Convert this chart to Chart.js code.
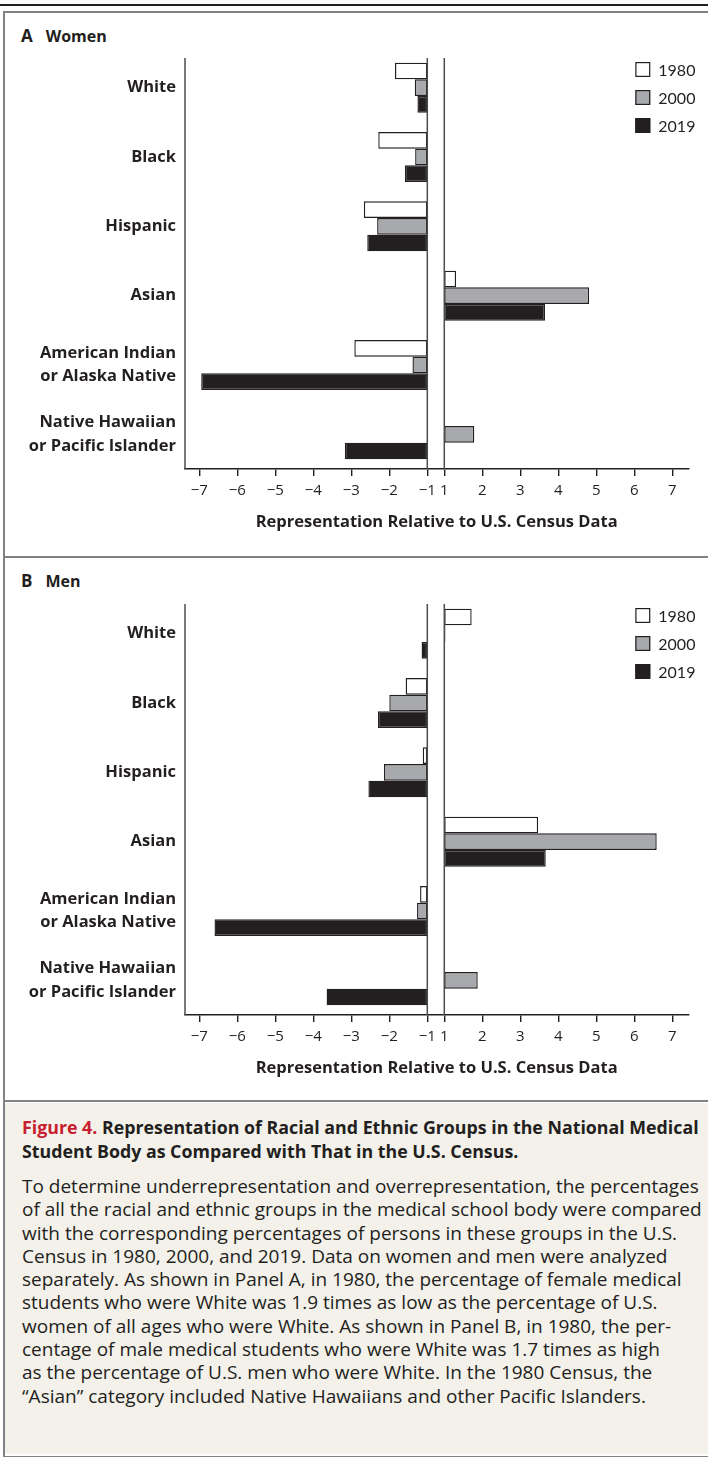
<!DOCTYPE html>
<html lang="en">
<head>
  <meta charset="UTF-8" />
  <title>Figure 4</title>
  <script src="https://cdn.jsdelivr.net/npm/chart.js"></script>
  <style>
    body {
      margin: 0;
      width: 708px;
      height: 1457px;
      position: relative;
      overflow: hidden;
      background: #fff;
      font-family: "Open Sans", Lato, sans-serif;
      color: #231f20;
    }
    .abs { position: absolute; }
    #topRule { left: 0; top: 4px; width: 708px; height: 2px; background: #231f20; }
    #frame {
      left: 3px; top: 11px; width: 720px; height: 1443px;
      border: 2px solid #808285; border-right: none;
    }
    .sep { left: 4px; width: 704px; height: 2px; background: #808285; }
    #captionBg { left: 5px; top: 1103px; width: 703px; height: 351px; background: #f4f1eb; }
    .panelHead { left: 21px; font-weight: bold; line-height: 22px; white-space: nowrap; }
    .panelHead .letter { font-size: 17px; margin-right: 13px; }
    .panelHead .name { font-size: 16px; }
    #capTitle {
      left: 22px; top: 1115px; font-weight: bold; font-size: 17.8px;
      line-height: 24px; white-space: nowrap;
    }
    #capTitle .fig { color: #c8202f; }
    #capBody {
      left: 22px; top: 1175px; font-size: 19px; line-height: 23.3px; white-space: nowrap;
    }
    canvas { position: absolute; left: 0; }
  </style>
</head>
<body>
  <div id="topRule" class="abs"></div>
  <div id="frame" class="abs"></div>
  <div class="abs sep" style="top:556px"></div>
  <div id="captionBg" class="abs"></div>
  <div class="abs sep" style="top:1100px"></div>

  <div class="abs panelHead" style="top:25px"><span class="letter">A</span><span class="name">Women</span></div>
  <div class="abs panelHead" style="top:570px"><span class="letter">B</span><span class="name">Men</span></div>

  <canvas id="chartA" width="708" height="494" style="top:45px"></canvas>
  <canvas id="chartB" width="708" height="494" style="top:591px"></canvas>

  <div id="capTitle" class="abs"><span class="fig">Figure 4.</span> Representation of Racial and Ethnic Groups in the National Medical<br>Student Body as Compared with That in the U.S. Census.</div>
  <div id="capBody" class="abs">To determine underrepresentation and overrepresentation, the percentages<br>of all the racial and ethnic groups in the medical school body were compared<br>with the corresponding percentages of persons in these groups in the U.S.<br>Census in 1980, 2000, and 2019. Data on women and men were analyzed<br>separately. As shown in Panel A, in 1980, the percentage of female medical<br>students who were White was 1.9 times as low as the percentage of U.S.<br>women of all ages who were White. As shown in Panel B, in 1980, the per-<br>centage of male medical students who were White was 1.7 times as high<br>as the percentage of U.S. men who were White. In the 1980 Census, the<br>&ldquo;Asian&rdquo; category included Native Hawaiians and other Pacific Islanders.</div>

  <script>
    // ---- data ----
    const categories = [
      'White', 'Black', 'Hispanic', 'Asian',
      ['American Indian', 'or Alaska Native'],
      ['Native Hawaiian', 'or Pacific Islander']
    ];
    const years = ['1980', '2000', '2019'];

    const women1980 = [-1.85, -2.29, -2.67, 1.31, -2.92, null];
    const women2000 = [-1.33, -1.32, -2.32, 4.81, -1.39, 1.79];
    const women2019 = [-1.26, -1.59, -2.58, 3.65, -6.95, -3.17];

    const men1980 = [1.72, -1.57, -1.12, 3.47, -1.19, null];
    const men2000 = [1.03, -2.00, -2.14, 6.59, -1.27, 1.88];
    const men2019 = [-1.15, -2.30, -2.55, 3.67, -6.60, -3.65];

    const xTickValues = [-7, -6, -5, -4, -3, -2, -1, 1, 2, 3, 4, 5, 6, 7];
    const axisTitle = 'Representation Relative to U.S. Census Data';

    const barColors = ['#ffffff', '#a7a9ac', '#231f20'];
    const ink = '#231f20';

    // the axis jumps from -1 straight to 1; squeeze that gap
    const GAP = 0.447;
    function toU(v) {
      return v < 0 ? v + 1 - GAP / 2 : v - 1 + GAP / 2;
    }
    function fmt(v) {
      return v < 0 ? '\u2212' + Math.abs(v) : String(v);
    }
    function bar(v) {
      if (v === null) return null;
      return v < 0 ? [toU(-1), toU(v)] : [toU(1), toU(v)];
    }

    const overlay = {
      id: 'overlay',
      afterDatasetsDraw(chart) {
        const { ctx, chartArea, scales: { x } } = chart;
        ctx.save();
        ctx.strokeStyle = '#4d4d4f';
        ctx.lineWidth = 1.5;
        [chartArea.left, x.getPixelForValue(toU(-1)), x.getPixelForValue(toU(1))].forEach(px => {
          ctx.beginPath();
          ctx.moveTo(px, chartArea.top + 5);
          ctx.lineTo(px, chartArea.bottom);
          ctx.stroke();
        });

        // legend, top right
        ctx.font = '16px Lato';
        ctx.textBaseline = 'middle';
        chart.data.datasets.forEach((ds, i) => {
          const bx = chartArea.right - 53;
          const cy = chartArea.top + 16.5 + i * 28;
          ctx.fillStyle = ds.backgroundColor;
          ctx.fillRect(bx, cy - 7.5, 15, 15);
          ctx.strokeStyle = ink;
          ctx.lineWidth = 1.2;
          ctx.strokeRect(bx + 0.6, cy - 6.9, 13.8, 13.8);
          ctx.fillStyle = ink;
          ctx.fillText(ds.label, bx + 23, cy + 1);
        });
        ctx.restore();
      }
    };

    function makeChart(id, series) {
      const ctx = document.getElementById(id).getContext('2d');
      return new Chart(ctx, {
        type: 'bar',
        data: {
          labels: categories,
          datasets: series.map((s, i) => ({
            label: years[i],
            data: s.map(bar),
            backgroundColor: barColors[i],
            borderColor: ink,
            borderWidth: 1.4,
            borderSkipped: false,
            categoryPercentage: 0.72,
            barPercentage: 1.0
          }))
        },
        options: {
          indexAxis: 'y',
          responsive: false,
          animation: false,
          layout: { padding: { top: 8, left: 0, right: 19.7, bottom: 0 } },
          plugins: { legend: { display: false }, tooltip: { enabled: false } },
          scales: {
            x: {
              type: 'linear',
              min: -6.6,
              max: 6.645,
              afterFit: s => { s.height = 70; s.paddingLeft = 0; s.paddingRight = 0; },
              afterBuildTicks: s => { s.ticks = xTickValues.map(v => ({ value: toU(v) })); },
              ticks: {
                autoSkip: false,
                maxRotation: 0,
                padding: 6,
                color: ink,
                font: { family: 'Open Sans', size: 15 },
                callback: (val, i) => fmt(xTickValues[i])
              },
              grid: { drawOnChartArea: false, drawTicks: true, tickLength: 7, color: ink, lineWidth: 1.4 },
              border: { display: true, color: ink, width: 1.5 },
              title: {
                display: true,
                text: axisTitle,
                color: ink,
                font: { family: 'Open Sans', size: 16.5, weight: 'bold', lineHeight: 1.2 },
                padding: { top: 0, bottom: 7 }
              }
            },
            y: {
              type: 'category',
              afterFit: s => { s.width = 185; s.paddingTop = 0; s.paddingBottom = 0; },
              ticks: {
                padding: 9,
                color: ink,
                font: { family: 'Open Sans', size: 16.5, weight: 'bold', lineHeight: 1.42 }
              },
              grid: { display: false, drawTicks: false },
              border: { display: false }
            }
          }
        },
        plugins: [overlay]
      });
    }

    makeChart('chartA', [women1980, women2000, women2019]);
    makeChart('chartB', [men1980, men2000, men2019]);
  </script>
</body>
</html>
